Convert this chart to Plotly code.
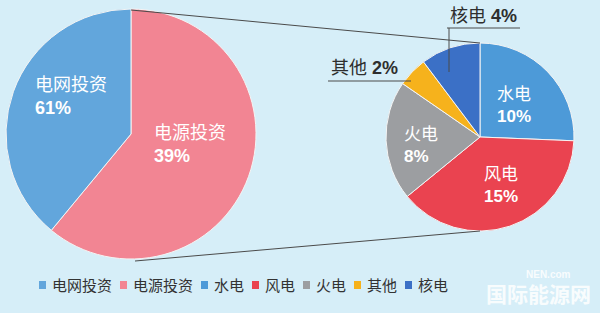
import plotly.graph_objects as go

# ---------------- data ----------------
main_labels = ["电网投资", "电源投资"]
main_pct_text = ["61%", "39%"]
main_drawn = [39, 61]          # slice sizes as they are drawn in the picture
main_colors = ["#62a6dc", "#f28593"]

sub_labels = ["水电", "风电", "火电", "其他", "核电"]
sub_values = [10, 15, 8, 2, 4]
sub_pct_text = ["10%", "15%", "8%", "2%", "4%"]
sub_colors = ["#4d9ad8", "#ea4350", "#9c9ea1", "#f6b21c", "#3b70c6"]

legend_labels = main_labels + sub_labels
legend_colors = main_colors + sub_colors

# ---------------- layout helpers ----------------
W, H = 600, 313
BG = "#d6eef8"
FONT = "Liberation Sans, Noto Sans CJK SC, sans-serif"


def px(x):
    return x / W


def py(y):
    return 1 - y / H


fig = go.Figure()

# big pie: center (131,134), r 125 ; pink slice drawn clockwise from 12 o'clock
fig.add_trace(go.Pie(
    labels=main_labels[::-1], values=main_drawn[::-1], sort=False,
    direction="clockwise", rotation=0,
    marker=dict(colors=main_colors[::-1], line=dict(color="#f4f4f4", width=1)),
    textinfo="none", hoverinfo="label", showlegend=False,
    domain=dict(x=[px(6), px(256)], y=[py(259), py(9)]),
))

# small pie: center (480,137), r 94
fig.add_trace(go.Pie(
    labels=sub_labels, values=sub_values, sort=False,
    direction="clockwise", rotation=0,
    marker=dict(colors=sub_colors, line=dict(color="#f4f4f4", width=1)),
    textinfo="none", hoverinfo="label", showlegend=False,
    domain=dict(x=[px(386), px(574)], y=[py(231), py(43)]),
))

shapes = []
line_style = dict(color="#4a4a4a", width=1)
# connector lines between the two pies
shapes.append(dict(type="line", xref="paper", yref="paper",
                   x0=px(131), y0=py(10), x1=px(480), y1=py(43), line=line_style))
shapes.append(dict(type="line", xref="paper", yref="paper",
                   x0=px(135), y0=py(261), x1=px(480), y1=py(231), line=line_style))
# leader lines for small slices
shapes.append(dict(type="line", xref="paper", yref="paper",
                   x0=px(449), y0=py(28), x1=px(449), y1=py(72), line=line_style))
shapes.append(dict(type="line", xref="paper", yref="paper",
                   x0=px(447), y0=py(28), x1=px(520), y1=py(28), line=line_style))
shapes.append(dict(type="line", xref="paper", yref="paper",
                   x0=px(328), y0=py(81), x1=px(411), y1=py(81), line=line_style))

annotations = []


def inside_label(text, pct, x, y, size=18):
    annotations.append(dict(
        xref="paper", yref="paper", x=px(x), y=py(y),
        xanchor="left", yanchor="middle", align="left", showarrow=False,
        text=f"{text}<br><b>{pct}</b>",
        font=dict(family=FONT, size=size, color="white"),
    ))


inside_label(main_labels[0], main_pct_text[0], 33, 97)
inside_label(main_labels[1], main_pct_text[1], 152, 144)
inside_label(sub_labels[0], sub_pct_text[0], 495, 105, 17)
inside_label(sub_labels[1], sub_pct_text[1], 482, 185, 17)
inside_label(sub_labels[2], sub_pct_text[2], 402, 145, 17)

for i, (x, y) in zip([4, 3], [(483, 16), (364, 68)]):
    annotations.append(dict(
        xref="paper", yref="paper", x=px(x), y=py(y),
        xanchor="center", yanchor="middle", showarrow=False,
        text=f"{sub_labels[i]} <b>{sub_pct_text[i]}</b>",
        font=dict(family=FONT, size=18, color="#2e2e2e"),
    ))

# custom legend row
lx = 39
ly = 285
for lab, col in zip(legend_labels, legend_colors):
    shapes.append(dict(type="rect", xref="paper", yref="paper",
                       x0=px(lx), x1=px(lx + 7), y0=py(ly + 4), y1=py(ly - 4),
                       fillcolor=col, line=dict(width=0)))
    annotations.append(dict(
        xref="paper", yref="paper", x=px(lx + 11), y=py(ly),
        xanchor="left", yanchor="middle", showarrow=False, text=lab,
        font=dict(family=FONT, size=15, color="#333333"),
    ))
    lx += 11 + 15 * len(lab) + 10

# watermark
annotations.append(dict(
    xref="paper", yref="paper", x=px(538), y=py(294),
    xanchor="center", yanchor="middle", showarrow=False, text="<b>国际能源网</b>",
    font=dict(family=FONT, size=21, color="rgba(255,255,255,0.85)"),
))
annotations.append(dict(
    xref="paper", yref="paper", x=px(548), y=py(274),
    xanchor="center", yanchor="middle", showarrow=False, text="<b>NEN.com</b>",
    font=dict(family=FONT, size=10, color="rgba(255,255,255,0.85)"),
))

fig.update_layout(
    width=W, height=H,
    margin=dict(l=0, r=0, t=0, b=0),
    paper_bgcolor=BG, plot_bgcolor=BG,
    showlegend=False,
    shapes=shapes, annotations=annotations,
)

fig.write_html("out.html")
